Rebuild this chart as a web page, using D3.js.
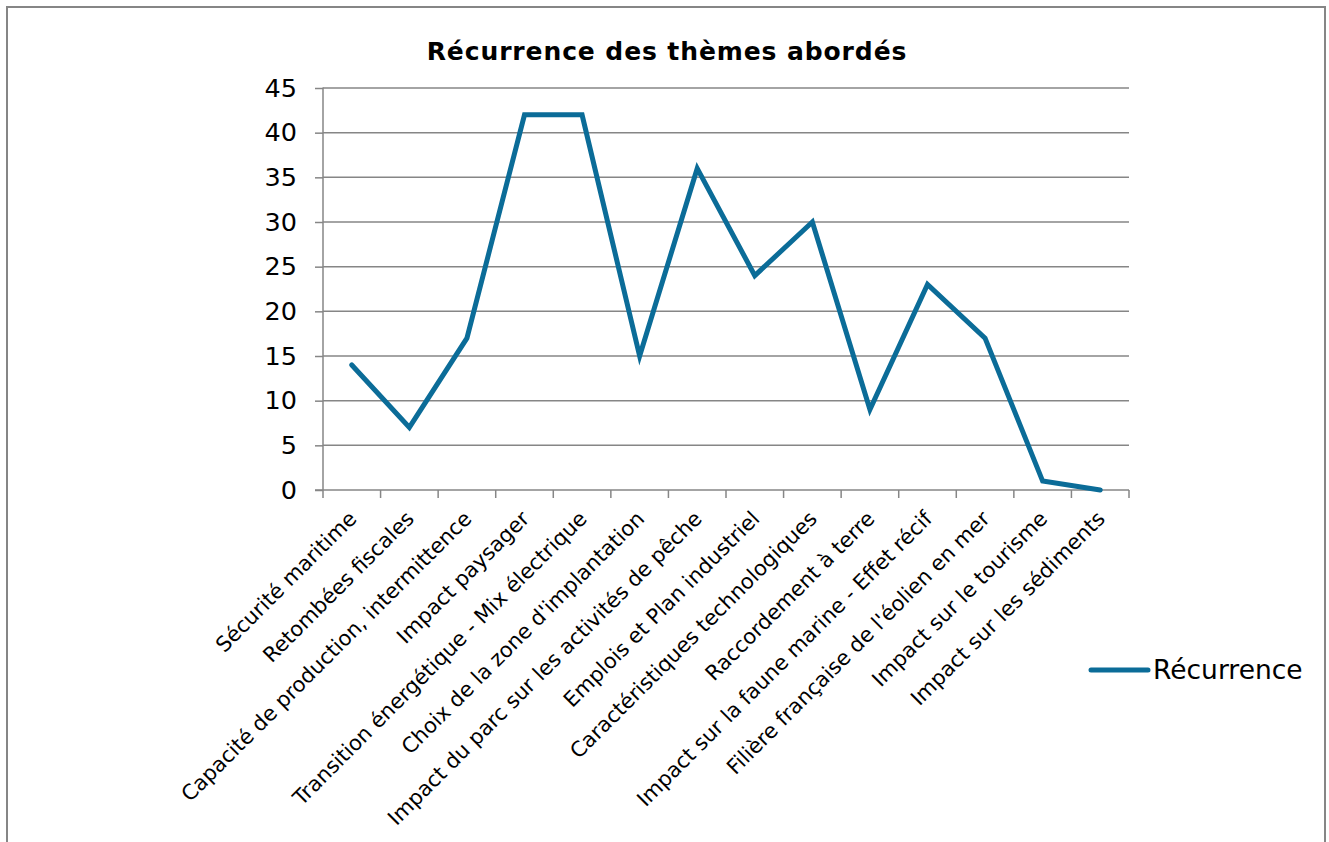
<!DOCTYPE html>
<html>
<head>
<meta charset="utf-8">
<script src="https://cdn.jsdelivr.net/npm/d3@7"></script>
<style>
  body { margin: 0; background: #fff; }
  svg { display: block; font-family: "DejaVu Sans", Verdana, sans-serif; }
</style>
</head>
<body>
<svg id="canvas" width="1329" height="842"></svg>
<script>
const svg = d3.select("#canvas");
const width = 1329;
const height = 842;

const categories = [
    "Sécurité maritime",
    "Retombées fiscales",
    "Capacité de production, intermittence",
    "Impact paysager",
    "Transition énergétique - Mix électrique",
    "Choix de la zone d'implantation",
    "Impact du parc sur les activités de pêche",
    "Emplois et Plan industriel",
    "Caractéristiques technologiques",
    "Raccordement à terre",
    "Impact sur la faune marine - Effet récif",
    "Filière française de l'éolien en mer",
    "Impact sur le tourisme",
    "Impact sur les sédiments"
];
const values = [14, 7, 17, 42, 42, 15, 36, 24, 30, 9, 23, 17, 1, 0];
const yTicks = [0, 5, 10, 15, 20, 25, 30, 35, 40, 45];
const seriesName = "Récurrence";
const title = "Récurrence des thèmes abordés";

const lineColor = "#0b6c98";
const gridColor = "#868686";

const plot = { left: 323, right: 1129, top: 88, bottom: 490 };

const x = d3.scaleBand().domain(categories).range([plot.left, plot.right]).padding(0);
const y = d3.scaleLinear().domain([0, 45]).range([plot.bottom, plot.top]);

// outer frame
svg.append("rect")
    .attr("x", 7).attr("y", 7)
    .attr("width", 1318).attr("height", 860)
    .attr("fill", "none")
    .attr("stroke", gridColor)
    .attr("stroke-width", 2);

// title
svg.append("text")
    .attr("x", 667).attr("y", 60)
    .attr("text-anchor", "middle")
    .attr("font-size", "25px")
    .attr("font-weight", "bold")
    .attr("letter-spacing", "0.9px")
    .attr("fill", "#000")
    .text(title);

// y grid + axis
const yAxis = d3.axisLeft(y).tickValues(yTicks).tickSize(8).tickPadding(18);
const gy = svg.append("g").attr("transform", `translate(${plot.left},0)`).call(yAxis);
gy.select(".domain").attr("stroke", gridColor).attr("stroke-width", 1.5).attr("d", `M0,${plot.top - 0.5}V${plot.bottom}`);
gy.selectAll(".tick line").attr("stroke", gridColor).attr("stroke-width", 1.5);
gy.selectAll(".tick text").attr("font-size", "25.5px").attr("fill", "#000").attr("font-family", "DejaVu Sans, Verdana, sans-serif");

svg.append("g").selectAll("line")
    .data(yTicks.filter(d => d > 0))
    .join("line")
    .attr("x1", plot.left).attr("x2", plot.right)
    .attr("y1", d => y(d)).attr("y2", d => y(d))
    .attr("stroke", gridColor)
    .attr("stroke-width", 1.5);

// x axis
svg.append("line")
    .attr("x1", plot.left - 8).attr("x2", plot.right)
    .attr("y1", plot.bottom).attr("y2", plot.bottom)
    .attr("stroke", gridColor).attr("stroke-width", 1.5);

const xEdges = categories.map(c => x(c)).concat([plot.right]);
svg.append("g").selectAll("line")
    .data(xEdges)
    .join("line")
    .attr("x1", d => d).attr("x2", d => d)
    .attr("y1", plot.bottom).attr("y2", plot.bottom + 8)
    .attr("stroke", gridColor).attr("stroke-width", 1.5);

// category labels
svg.append("g").selectAll("text")
    .data(categories)
    .join("text")
    .attr("transform", d => `translate(${x(d) + x.bandwidth() / 2 + 6},${plot.bottom + 30}) rotate(-45)`)
    .attr("text-anchor", "end")
    .attr("font-size", "21px")
    .attr("fill", "#000")
    .text(d => d);

// line
const line = d3.line()
    .x((d, i) => x(categories[i]) + x.bandwidth() / 2)
    .y(d => y(d));

svg.append("path")
    .datum(values)
    .attr("d", line)
    .attr("fill", "none")
    .attr("stroke", lineColor)
    .attr("stroke-width", 5)
    .attr("stroke-linejoin", "miter")
    .attr("stroke-linecap", "round");

// legend
svg.append("line")
    .attr("x1", 1091).attr("x2", 1148)
    .attr("y1", 670).attr("y2", 670)
    .attr("stroke", lineColor)
    .attr("stroke-width", 5)
    .attr("stroke-linecap", "round");

svg.append("text")
    .attr("x", 1153).attr("y", 679)
    .attr("font-size", "26.5px")
    .attr("fill", "#000")
    .text(seriesName);
</script>
</body>
</html>
